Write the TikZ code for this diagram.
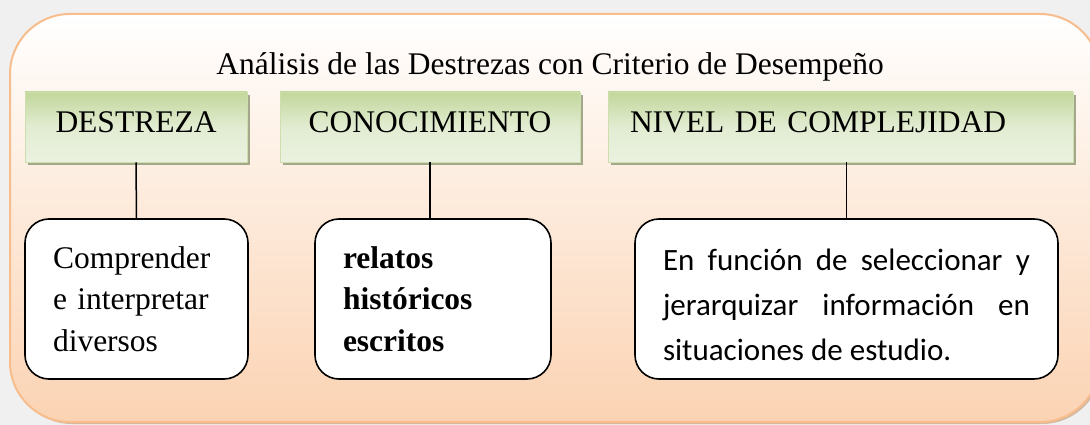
\documentclass[tikz,border=0pt]{standalone}
\usepackage{fontspec}
\setmainfont{Liberation Serif}
\newfontfamily\calibrifont{Carlito}
\usetikzlibrary{shadows}
\definecolor{bggray}{HTML}{F0F0F0}
\definecolor{frameline}{HTML}{F8BD8D}
\definecolor{peach}{HTML}{FBD3B3}
\definecolor{greendark}{HTML}{C2D79B}
\definecolor{greenlight}{HTML}{EBF2E0}
\definecolor{greenmid}{HTML}{E2ECD2}
\definecolor{greenshadow}{HTML}{A3A88A}
\definecolor{frameshadow}{HTML}{D2B9A2}
\tikzset{
  framebox/.style={rectangle, rounded corners=60pt, draw=frameline, line width=2pt,
    top color=white, bottom color=peach, minimum width=1090pt, minimum height=408pt,
    general shadow={fill=frameshadow, shadow xshift=2pt, shadow yshift=-2pt}},
  headbox/.style={rectangle, minimum height=70pt, inner xsep=0pt, inner ysep=0pt,
    draw=greendark!80!white, line width=0.6pt,
    shading=axis, shading angle=200, top color=greendark, bottom color=greenlight, middle color=greenmid,
    general shadow={fill=greenshadow, shadow xshift=3pt, shadow yshift=-3pt},
    font=\fontsize{31.5}{36}\selectfont, text height=21pt, text depth=9pt},
  textbox/.style={rectangle, rounded corners=24pt, draw=black, line width=1.6pt, fill=white,
    minimum height=160pt, inner xsep=28pt, inner ysep=0pt},
  link/.style={draw=black, line width=1.5pt}
}
\begin{document}
\begin{tikzpicture}[x=1pt,y=-1pt]
\useasboundingbox (0,0) rectangle (1090,425);
\fill[bggray] (0,0) rectangle (1090,425);
\node[framebox] (frame) at (555,218) {};
\node[font=\fontsize{31.5}{36}\selectfont, anchor=base] (title) at (550,75)
  {Análisis de las Destrezas con Criterio de Desempeño};
% header boxes
\node[headbox, minimum width=222pt, text width=222pt, align=center] (h1) at (136,127) {DESTREZA};
\node[headbox, minimum width=300pt, text width=300pt, align=center] (h2) at (430,127) {CONOCIMIENTO};
\node[headbox, minimum width=465pt, text width=421pt, align=left] (h3) at (840.5,127) {NIVEL DE COMPLEJIDAD};
% text boxes
\node[textbox, minimum width=223pt, text width=167pt, align=left,
  font=\fontsize{31.5}{41.5}\selectfont] (b1) at (136.5,299) {Comprender\\e interpretar\\diversos};
\node[textbox, minimum width=236pt, text width=180pt, align=left,
  font=\fontsize{31.5}{41.5}\selectfont\bfseries] (b2) at (433,299) {relatos\\históricos\\escritos};
\node[textbox, minimum width=423pt, text width=367pt, align=justify,
  font=\calibrifont\fontsize{31}{45}\selectfont] (b3) at (846.5,299)
  {\rule{0pt}{34pt}En función de seleccionar y\linebreak jerarquizar información en\linebreak situaciones de estudio.};
% connectors
\draw[link] (h1.south) -- (b1.north);
\draw[link] (h2.south) -- (b2.north -| h2.south);
\draw[link] (h3.south -| b3.north) -- (b3.north);
\end{tikzpicture}
\end{document}
